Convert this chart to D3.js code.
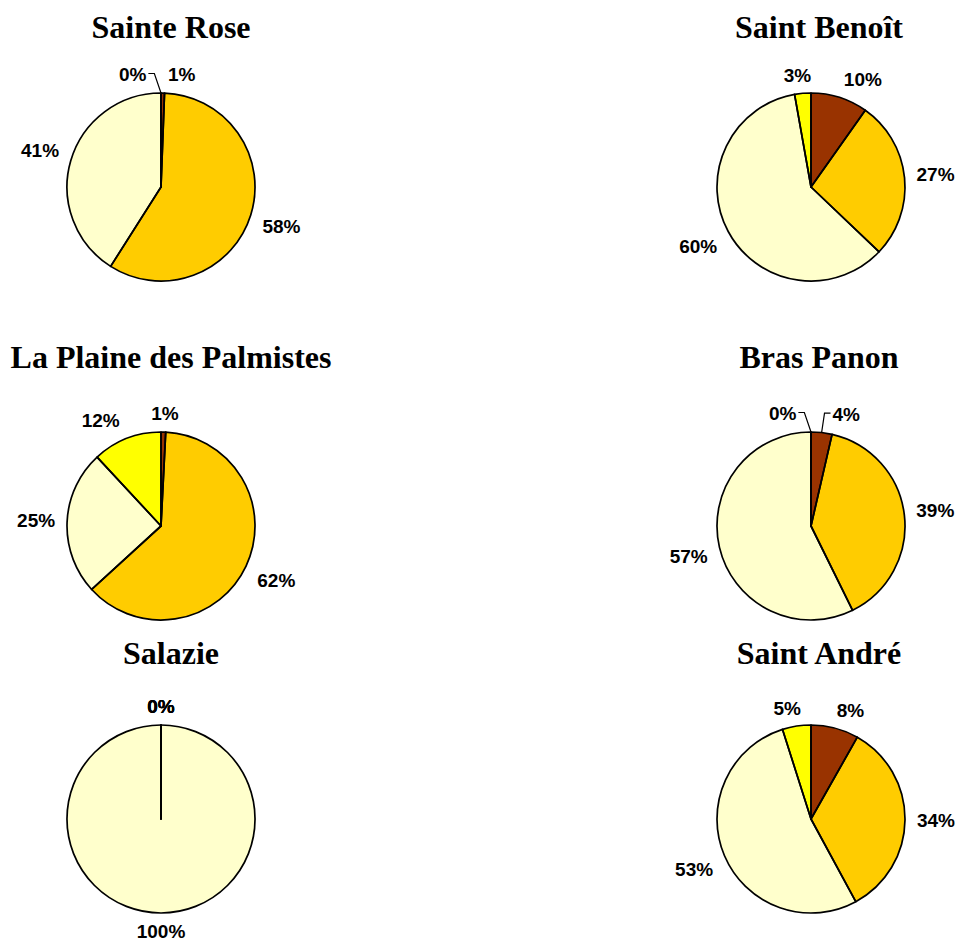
<!DOCTYPE html>
<html>
<head>
<meta charset="utf-8">
<script src="https://cdn.jsdelivr.net/npm/d3@7"></script>
<style>
  body { margin: 0; background: #fff; }
  svg { display: block; }
</style>
</head>
<body>
<svg id="chart" width="955" height="944"></svg>
<script>
// Communes (un camembert par commune), lues de gauche à droite, ligne par ligne
const communes = ["Sainte Rose", "Saint Benoît", "La Plaine des Palmistes", "Bras Panon", "Salazie", "Saint André"];
const categories = ["Classe 1", "Classe 2", "Classe 3", "Classe 4"];

// parts en % (ordre des catégories, sens horaire depuis midi)
const valSainteRose = [0.6, 58.4, 41.0, 0];
const valSaintBenoit = [9.8, 27.3, 60.1, 2.8];
const valPlainePalmistes = [0.8, 62.4, 24.9, 11.9];
const valBrasPanon = [3.6, 39.1, 57.3, 0];
const valSalazie = [0, 0, 100, 0];
const valSaintAndre = [8.2, 33.9, 53.0, 4.9];

const seriesValues = [valSainteRose, valSaintBenoit, valPlainePalmistes, valBrasPanon, valSalazie, valSaintAndre];

const palette = ["#993300", "#FFCC00", "#FFFFCC", "#FFFF00"];

const svg = d3.select("#chart");
svg.append("rect").attr("width", 955).attr("height", 944).attr("fill", "#fff");

// grille 2 colonnes x 3 lignes
const colPieX = [161, 811];
const colTitleX = [171, 819];
const rowPieY = [187, 526, 819];
const rowTitleY = [38, 368, 664];
const radius = 94;
const labelGap = 8;
const boxH = 21;

const pie = d3.pie().sort(null).value(d => d);
const arc = d3.arc().innerRadius(0).outerRadius(radius);
const clamp1 = v => Math.max(-1, Math.min(1, v));

communes.forEach((name, i) => {
    const col = i % 2;
    const row = Math.floor(i / 2);

    svg.append("text")
        .attr("x", colTitleX[col])
        .attr("y", rowTitleY[row])
        .attr("text-anchor", "middle")
        .attr("font-family", "'Liberation Serif', 'Times New Roman', serif")
        .attr("font-weight", "bold")
        .attr("font-size", 32)
        .attr("fill", "#000")
        .text(name);

    const g = svg.append("g").attr("transform", `translate(${colPieX[col]},${rowPieY[row]})`);
    const arcs = pie(seriesValues[i]);

    // remplissages puis contours (les parts nulles deviennent des traits)
    g.selectAll("path.fill")
        .data(arcs)
        .enter()
        .append("path")
        .attr("class", "fill")
        .attr("d", arc)
        .attr("fill", d => palette[d.index])
        .attr("stroke", "none");

    g.selectAll("path.edge")
        .data(arcs)
        .enter()
        .append("path")
        .attr("class", "edge")
        .attr("d", arc)
        .attr("fill", "none")
        .attr("stroke", "#000")
        .attr("stroke-width", 1.7)
        .attr("stroke-linejoin", "round");

    const labels = arcs.map(a => {
        const mid = (a.startAngle + a.endAngle) / 2;
        return { a, mid, text: Math.round(a.data) + "%" };
    });

    const texts = g.selectAll("text.lbl")
        .data(labels)
        .enter()
        .append("text")
        .attr("class", "lbl")
        .attr("text-anchor", "middle")
        .attr("dy", "0.36em")
        .attr("font-family", "'Liberation Sans', Arial, sans-serif")
        .attr("font-weight", "bold")
        .attr("font-size", 19)
        .attr("fill", "#000")
        .text(d => d.text);

    texts.each(function (d) {
        d.tw = this.getComputedTextLength();
        d.w = d.tw + 8;
        const ux = Math.sin(d.mid);
        const uy = -Math.cos(d.mid);
        const R = radius + labelGap;
        d.x = R * ux + d.w / 2 * clamp1(3 * ux);
        d.y = R * uy + boxH / 2 * clamp1(3 * uy);
        d.nx = d.x;
        d.ax = radius * ux;
        d.ay = radius * uy;
        d.side = 0;
    });

    // écarte les étiquettes qui se chevauchent (sauf textes identiques)
    for (let p = 0; p < labels.length; p++) {
        for (let q = p + 1; q < labels.length; q++) {
            const A = labels[p], B = labels[q];
            if (A.text === B.text) continue;
            if (Math.abs(A.x - B.x) >= (A.w + B.w) / 2 || Math.abs(A.y - B.y) >= boxH) continue;
            let left = A, right = B;
            if (B.nx < A.nx || (B.nx === A.nx && B.mid > A.mid)) { left = B; right = A; }
            left.x -= 0.8 * left.w;
            right.x += 0.5 * right.w;
            left.side = -1;
            right.side = 1;
        }
    }

    texts.attr("x", d => d.x).attr("y", d => d.y);

    labels.forEach(d => {
        if (!d.side) return;
        const l = d.x - d.tw / 2, r = d.x + d.tw / 2;
        if (d.ax >= l - 10 && d.ax <= r + 10) return;
        const ly = d.y - 1;
        const pts = d.side < 0
            ? [[r + 2, ly], [r + 8, ly], [d.ax, d.ay]]
            : [[l - 2, ly], [l - 8, ly], [d.ax, d.ay]];
        g.append("path")
            .attr("d", d3.line()(pts))
            .attr("fill", "none")
            .attr("stroke", "#000")
            .attr("stroke-width", 1.2);
    });
});
</script>
</body>
</html>
